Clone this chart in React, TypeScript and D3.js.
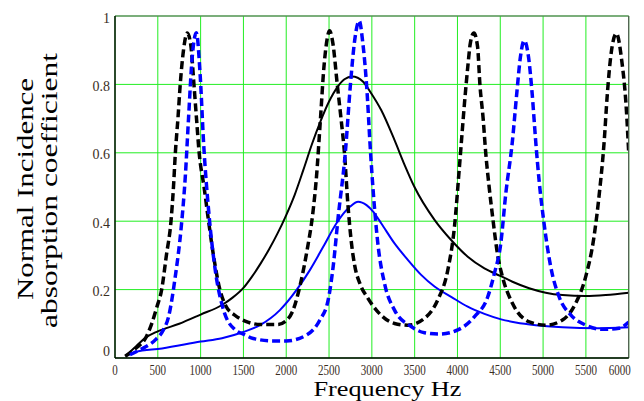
import React from "react";
import * as d3 from "d3";

// ---- data (frequency Hz, normal incidence absorption coefficient) ----
const xTicks = [0, 500, 1000, 1500, 2000, 2500, 3000, 3500, 4000, 4500, 5000, 5500, 6000];
const yTicks = [0, 0.2, 0.4, 0.6, 0.8, 1];
const yTickLabels = ["0", "0.2", "0.4", "0.6", "0.8", "1"];

const blackSolidFreq = [120, 250, 350, 500, 750, 1000, 1250, 1366, 1500, 1600, 1700, 1800, 1900, 2000, 2100, 2200, 2300, 2400, 2500, 2600, 2680, 2770, 2898, 2990, 3109, 3265, 3382, 3498, 3732, 3926, 4120, 4315, 4500, 4642, 4837, 5031, 5226, 5498, 5733, 6000];
const blackSolidAbs = [0.005, 0.035, 0.058, 0.078, 0.1, 0.127, 0.155, 0.175, 0.205, 0.238, 0.276, 0.318, 0.365, 0.418, 0.478, 0.55, 0.625, 0.692, 0.75, 0.793, 0.815, 0.823, 0.808, 0.775, 0.725, 0.637, 0.565, 0.5, 0.404, 0.345, 0.296, 0.262, 0.24, 0.223, 0.204, 0.191, 0.184, 0.181, 0.184, 0.191];

const blueSolidFreq = [150, 237, 549, 1000, 1249, 1500, 1693, 1926, 2121, 2276, 2432, 2587, 2743, 2840, 2938, 3015, 3109, 3265, 3420, 3576, 3732, 3926, 4120, 4315, 4510, 4681, 4914, 5226, 5615, 6000];
const blueSolidAbs = [0.008, 0.018, 0.028, 0.048, 0.058, 0.076, 0.096, 0.14, 0.199, 0.257, 0.325, 0.394, 0.442, 0.457, 0.447, 0.428, 0.394, 0.335, 0.287, 0.243, 0.209, 0.179, 0.15, 0.129, 0.113, 0.104, 0.096, 0.09, 0.087, 0.09];

const blackDashFreq = [120, 250, 350, 428, 490, 545, 600, 654, 683, 705, 735, 762, 800, 844, 885, 922, 952, 983, 1040, 1093, 1150, 1225, 1300, 1400, 1520, 1700, 1900, 2004, 2080, 2140, 2237, 2315, 2350, 2400, 2440, 2470, 2506, 2545, 2596, 2640, 2680, 2720, 2760, 2800, 2860, 2953, 3070, 3265, 3420, 3615, 3770, 3887, 3965, 4023, 4082, 4120, 4150, 4192, 4235, 4262, 4300, 4330, 4370, 4412, 4470, 4525, 4642, 4837, 5031, 5226, 5381, 5498, 5595, 5653, 5712, 5751, 5790, 5856, 5918, 5973, 6000];
const blackDashAbs = [0.005, 0.03, 0.055, 0.1, 0.15, 0.2, 0.3, 0.4, 0.5, 0.6, 0.7, 0.8, 0.9, 0.95, 0.915, 0.8, 0.7, 0.6, 0.5, 0.4, 0.3, 0.2, 0.15, 0.125, 0.108, 0.098, 0.098, 0.11, 0.14, 0.19, 0.306, 0.433, 0.52, 0.7, 0.85, 0.92, 0.957, 0.92, 0.8, 0.7, 0.6, 0.45, 0.34, 0.27, 0.218, 0.175, 0.135, 0.101, 0.096, 0.116, 0.17, 0.257, 0.384, 0.559, 0.745, 0.85, 0.92, 0.95, 0.91, 0.8, 0.7, 0.6, 0.5, 0.41, 0.3, 0.238, 0.16, 0.106, 0.096, 0.111, 0.16, 0.238, 0.355, 0.472, 0.628, 0.774, 0.881, 0.949, 0.871, 0.725, 0.6];

const blueDashFreq = [175, 300, 471, 560, 626, 704, 774, 821, 860, 899, 950, 996, 1035, 1093, 1171, 1268, 1404, 1500, 1615, 1850, 2000, 2237, 2393, 2490, 2548, 2607, 2690, 2750, 2800, 2852, 2895, 2938, 2985, 3015, 3070, 3148, 3265, 3459, 3615, 3790, 4004, 4199, 4354, 4432, 4506, 4564, 4640, 4695, 4735, 4780, 4830, 4870, 4915, 4953, 5011, 5089, 5187, 5323, 5498, 5693, 5887, 6000];
const blueDashAbs = [0.01, 0.025, 0.053, 0.08, 0.121, 0.238, 0.384, 0.53, 0.706, 0.871, 0.951, 0.822, 0.628, 0.433, 0.257, 0.14, 0.082, 0.07, 0.057, 0.05, 0.05, 0.067, 0.111, 0.17, 0.267, 0.413, 0.6, 0.8, 0.93, 0.986, 0.92, 0.8, 0.6, 0.49, 0.335, 0.218, 0.14, 0.092, 0.074, 0.07, 0.082, 0.121, 0.179, 0.248, 0.335, 0.48, 0.63, 0.78, 0.88, 0.928, 0.88, 0.78, 0.63, 0.52, 0.394, 0.267, 0.179, 0.126, 0.096, 0.084, 0.087, 0.105];

const W = 644;
const H = 401;
const L = 115;
const R = 628.7;
const T = 16;
const B = 358;

const zip = (f: number[], a: number[]) => f.map((v, i) => [v, a[i]] as [number, number]);

export default function App() {
  const x = d3.scaleLinear().domain([0, 6000]).range([L, R]);
  const y = d3.scaleLinear().domain([0, 1]).range([B, T]);
  const line = d3
    .line<[number, number]>()
    .x((d) => x(d[0]))
    .y((d) => y(d[1]))
    .curve(d3.curveMonotoneX);

  const series = [
    { data: zip(blackSolidFreq, blackSolidAbs), color: "#000000", w: 2, dash: undefined },
    { data: zip(blueSolidFreq, blueSolidAbs), color: "#0000ff", w: 2, dash: undefined },
    { data: zip(blackDashFreq, blackDashAbs), color: "#000000", w: 3.5, dash: "8,4" },
    { data: zip(blueDashFreq, blueDashAbs), color: "#0000ff", w: 3.5, dash: "8,4" },
  ];

  const tickColor = "#3a2e1e";
  const serif = "'Liberation Serif', 'Times New Roman', serif";
  const lastTick = xTicks[xTicks.length - 1];

  return (
    <svg
      width={W}
      height={H}
      style={{ position: "absolute", left: 0, top: 0, background: "#fff" }}
      fontFamily={serif}
    >
      <rect x={0} y={0} width={W} height={H} fill="#fff" />
      {/* grid */}
      {xTicks.map((t) => (
        <line key={"gx" + t} x1={x(t)} x2={x(t)} y1={T} y2={B} stroke="#22ee22" strokeWidth={1} />
      ))}
      {yTicks.map((t) => (
        <line key={"gy" + t} x1={L} x2={R} y1={y(t)} y2={y(t)} stroke="#22ee22" strokeWidth={1} />
      ))}
      <defs>
        <clipPath id="plotclip">
          <rect x={L} y={T - 2} width={R - L} height={B - T + 2} />
        </clipPath>
      </defs>
      <g clipPath="url(#plotclip)">
        {series.map((s, i) => (
          <path
            key={i}
            d={line(s.data) || ""}
            fill="none"
            stroke={s.color}
            strokeWidth={s.w}
            strokeDasharray={s.dash}
            strokeLinejoin="round"
          />
        ))}
      </g>
      {/* frame */}
      <line x1={L} x2={R} y1={T} y2={T} stroke="#666" strokeWidth={1.2} />
      <line x1={R} x2={R} y1={T} y2={B} stroke="#555" strokeWidth={1.2} />
      <line x1={L} x2={L} y1={T} y2={B} stroke="#000" strokeWidth={1.4} />
      <line x1={L} x2={R} y1={B} y2={B} stroke="#000" strokeWidth={1.4} />
      {/* x tick labels */}
      {xTicks.map((t) => {
        const s = String(t);
        const isLast = t === lastTick;
        return (
          <text
            key={"xl" + t}
            x={isLast ? x(t) + 2 : x(t)}
            y={374.5}
            textAnchor={isLast ? "end" : "middle"}
            fontSize={14}
            fill={tickColor}
            textLength={s.length * 5.5}
            lengthAdjust="spacingAndGlyphs"
          >
            {s}
          </text>
        );
      })}
      {/* y tick labels */}
      {yTicks.map((t, i) => (
        <text
          key={"yl" + t}
          x={110}
          y={y(t) + (t === 0 ? -7 : 1.5) + 5}
          textAnchor="end"
          fontSize={14}
          fill={tickColor}
        >
          {yTickLabels[i]}
        </text>
      ))}
      {/* axis titles */}
      <text x={387.5} y={396} textAnchor="middle" fontSize={21.5} fill="#000" textLength={148} lengthAdjust="spacingAndGlyphs">
        Frequency Hz
      </text>
      <text
        transform={`translate(33,189) rotate(-90)`}
        textAnchor="middle"
        fontSize={24}
        fill="#000"
        textLength={222}
        lengthAdjust="spacingAndGlyphs"
      >
        Normal Incidence
      </text>
      <text
        transform={`translate(57,190.5) rotate(-90)`}
        textAnchor="middle"
        fontSize={24}
        fill="#000"
        textLength={275}
        lengthAdjust="spacingAndGlyphs"
      >
        absorption coefficient
      </text>
    </svg>
  );
}
